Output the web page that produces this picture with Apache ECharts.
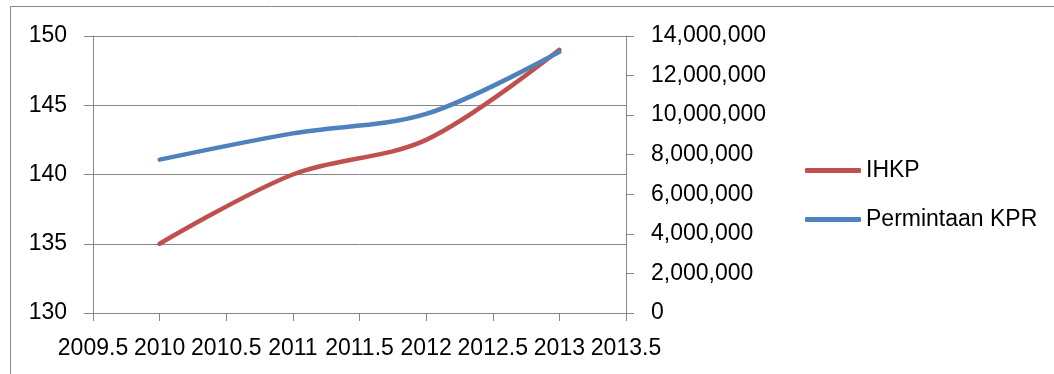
<!DOCTYPE html>
<html>
<head>
<meta charset="utf-8">
<script src="https://cdn.jsdelivr.net/npm/echarts@6/dist/echarts.min.js"></script>
<style>
  html, body { margin: 0; padding: 0; background: #ffffff; }
  #chart { width: 1054px; height: 374px; }
</style>
</head>
<body>
<div id="chart"></div>
<script>
// Yearly values: housing price index (left axis) and mortgage demand (right axis)
const years = [2010, 2011, 2012, 2013];
const ihkp = [135, 140, 142.5, 149];
const permintaanKpr = [7750000, 9080000, 10060000, 13200000];
const seriesNames = ['IHKP', 'Permintaan KPR'];

const FONT = 'Liberation Sans, Arial, sans-serif';
const GRID_GRAY = '#868686';
const RED = '#C0504D';
const BLUE = '#4F81BD';

const pairs = (xs, ys) => xs.map((x, i) => [x, ys[i]]);

const chart = echarts.init(document.getElementById('chart'), null, { renderer: 'canvas' });

chart.setOption({
  backgroundColor: '#ffffff',
  animation: false,
  textStyle: { fontFamily: FONT },
  graphic: [{
    type: 'rect',
    silent: true,
    z: -1,
    shape: { x: 10.5, y: 6.5, width: 1100, height: 420 },
    style: { fill: 'none', stroke: GRID_GRAY, lineWidth: 1 }
  }],
  grid: { left: 93, right: 428, top: 36, bottom: 61, containLabel: false },
  legend: {
    orient: 'vertical',
    left: 800,
    top: 154,
    itemWidth: 56,
    itemHeight: 5,
    itemGap: 26,
    icon: 'roundRect',
    textStyle: { fontFamily: FONT, fontSize: 23, color: '#000000' },
    data: seriesNames
  },
  xAxis: {
    type: 'value',
    min: 2009.5,
    max: 2013.5,
    interval: 0.5,
    axisLine: { show: true, lineStyle: { color: GRID_GRAY, width: 1 } },
    axisTick: { show: true, length: 8, lineStyle: { color: GRID_GRAY } },
    splitLine: { show: false },
    axisLabel: {
      margin: 24,
      fontSize: 23,
      color: '#000000',
      fontFamily: FONT,
      formatter: v => String(v)
    }
  },
  yAxis: [{
    type: 'value',
    position: 'left',
    min: 130,
    max: 150,
    interval: 5,
    axisLine: { show: true, lineStyle: { color: GRID_GRAY, width: 1 } },
    axisTick: { show: true, length: 9, lineStyle: { color: GRID_GRAY } },
    splitLine: { show: true, lineStyle: { color: GRID_GRAY, width: 1 } },
    axisLabel: { margin: 26, fontSize: 23, color: '#000000', fontFamily: FONT }
  }, {
    type: 'value',
    position: 'right',
    min: 0,
    max: 14000000,
    interval: 2000000,
    axisLine: { show: true, lineStyle: { color: GRID_GRAY, width: 1 } },
    axisTick: { show: true, length: 8, lineStyle: { color: GRID_GRAY } },
    splitLine: { show: false },
    axisLabel: {
      margin: 25,
      fontSize: 23,
      color: '#000000',
      fontFamily: FONT,
      formatter: v => v.toLocaleString('en-US')
    }
  }],
  series: [{
    name: seriesNames[0],
    type: 'line',
    yAxisIndex: 0,
    smooth: 0.33,
    showSymbol: false,
    symbol: 'none',
    color: RED,
    lineStyle: { color: RED, width: 4.5, cap: 'round', join: 'round' },
    data: pairs(years, ihkp)
  }, {
    name: seriesNames[1],
    type: 'line',
    yAxisIndex: 1,
    smooth: 0.33,
    showSymbol: false,
    symbol: 'none',
    color: BLUE,
    lineStyle: { color: BLUE, width: 4.5, cap: 'round', join: 'round' },
    data: pairs(years, permintaanKpr)
  }]
});
</script>
</body>
</html>
